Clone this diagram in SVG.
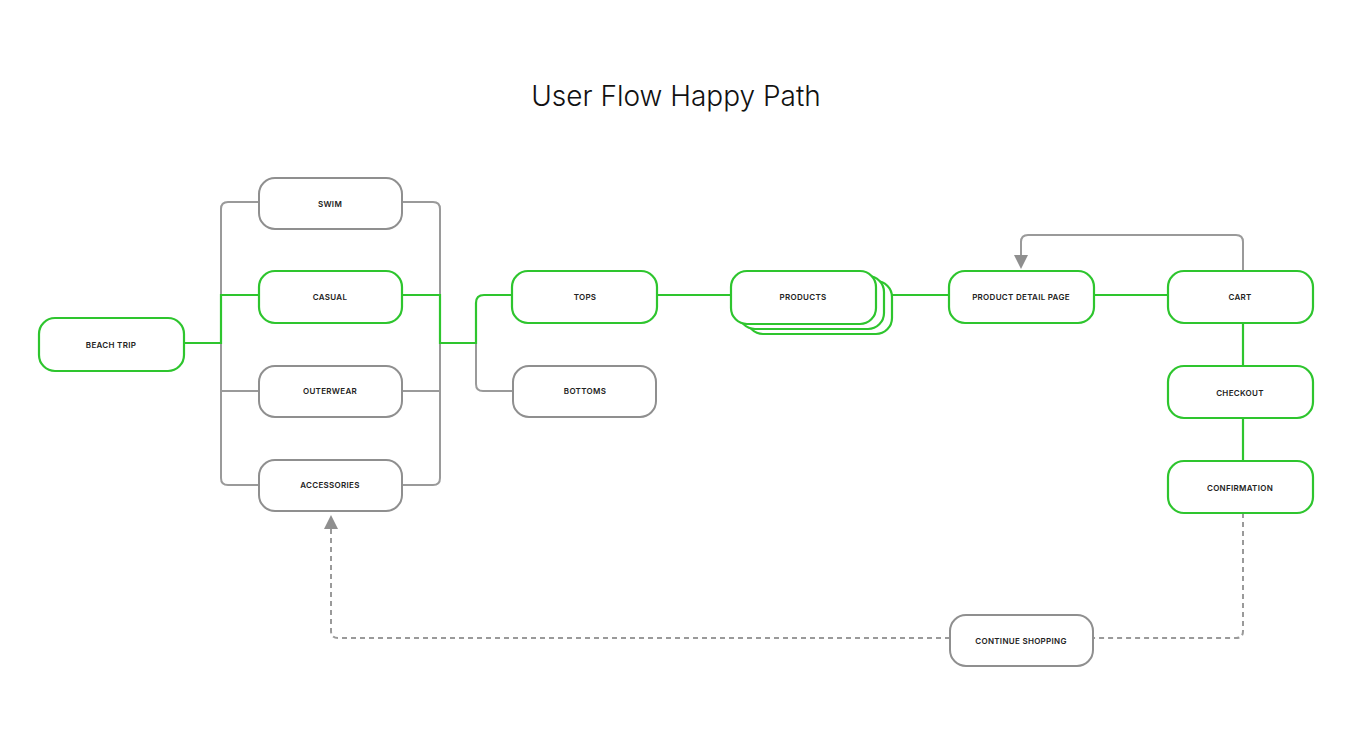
<svg xmlns="http://www.w3.org/2000/svg" width="1354" height="742" viewBox="0 0 1354 742">
<style>
.g{fill:#fff;stroke:#2ec52e;stroke-width:2.2}
.n{fill:#fff;stroke:#8f8f8f;stroke-width:2}
.t{font-family:Inter,"Liberation Sans",sans-serif;font-size:8px;font-weight:600;fill:#222;text-anchor:middle;letter-spacing:0.3px}
.lg{fill:none;stroke:#2ec52e;stroke-width:2.2}
.ln{fill:none;stroke:#9a9a9a;stroke-width:2}
</style>
<defs><marker id="a" viewBox="0 0 10 10" refX="5" refY="5" markerWidth="7" markerHeight="7" orient="auto"><path d="M0,0L10,5L0,10z" fill="#8f8f8f"/></marker></defs>
<rect width="1354" height="742" fill="#fff"/>
<text x="676" y="106" font-family="Inter,'Liberation Sans',sans-serif" font-size="28" font-weight="300" fill="#111" text-anchor="middle">User Flow Happy Path</text>
<g id="connectors">
<path class="ln" d="M259,202H228Q221,202 221,209V478Q221,485 228,485H259M221,391H259"/>
<path class="ln" d="M402,202H433Q440,202 440,209V478Q440,485 433,485H402M402,391H440"/>
<path class="ln" d="M476,343V384Q476,391 483,391H513"/>
<path class="ln" d="M1243,271V242Q1243,235 1236,235H1028Q1021,235 1021,242V262" marker-end="url(#a)"/>
<path class="ln" stroke-dasharray="5,4" d="M1243,513V631Q1243,638 1236,638H1093M950,638H338Q331,638 331,631V522" marker-end="url(#a)"/>
<path class="lg" d="M184,343H221V295H259M402,295H440V343H476V303Q476,295 484,295H512M657,295H731M890,295H949M1094,295H1168M1243,323V366M1243,418V461"/>
</g>
<g id="beach"><rect class="g" x="39" y="318" width="145" height="53" rx="16"/><text class="t" x="111" y="348">BEACH TRIP</text></g>
<g id="swim"><rect class="n" x="259" y="178" width="143" height="51" rx="16"/><text class="t" x="330" y="207">SWIM</text></g>
<g id="casual"><rect class="g" x="259" y="271" width="143" height="52" rx="16"/><text class="t" x="330" y="300">CASUAL</text></g>
<g id="outerwear"><rect class="n" x="259" y="366" width="143" height="51" rx="16"/><text class="t" x="330" y="394">OUTERWEAR</text></g>
<g id="accessories"><rect class="n" x="259" y="460" width="143" height="51" rx="16"/><text class="t" x="330" y="488">ACCESSORIES</text></g>
<g id="tops"><rect class="g" x="512" y="271" width="145" height="52" rx="16"/><text class="t" x="585" y="300">TOPS</text></g>
<g id="bottoms"><rect class="n" x="513" y="366" width="143" height="51" rx="16"/><text class="t" x="585" y="394">BOTTOMS</text></g>
<g id="products">
<rect class="g" x="747" y="281" width="145" height="53" rx="16" fill="#f3f6f3"/>
<rect class="g" x="739" y="276" width="145" height="53" rx="16" fill="#f3f6f3"/>
<rect class="g" x="731" y="271" width="145" height="53" rx="16"/>
<text class="t" x="803" y="300">PRODUCTS</text></g>
<g id="pdp"><rect class="g" x="949" y="271" width="145" height="52" rx="16"/><text class="t" x="1021" y="300">PRODUCT DETAIL PAGE</text></g>
<g id="cart"><rect class="g" x="1168" y="271" width="145" height="52" rx="16"/><text class="t" x="1240" y="300">CART</text></g>
<g id="checkout"><rect class="g" x="1168" y="366" width="145" height="52" rx="16"/><text class="t" x="1240" y="396">CHECKOUT</text></g>
<g id="confirmation"><rect class="g" x="1168" y="461" width="145" height="52" rx="16"/><text class="t" x="1240" y="491">CONFIRMATION</text></g>
<g id="continue"><rect class="n" x="950" y="615" width="143" height="51" rx="16"/><text class="t" x="1021" y="644">CONTINUE SHOPPING</text></g>
</svg>
